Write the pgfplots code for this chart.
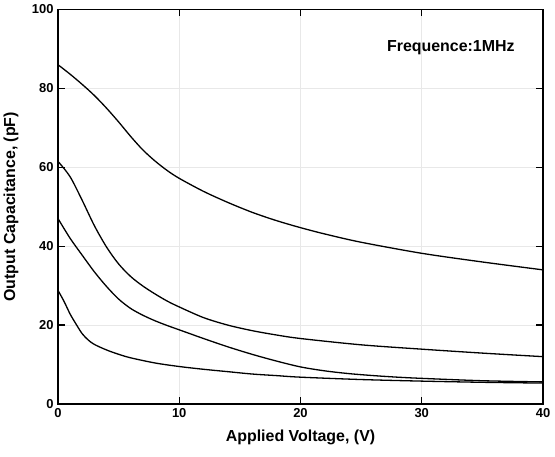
\documentclass[border=0pt]{standalone}
\usepackage{fontspec}
\setmainfont{Liberation Sans}
\usepackage{pgfplots}
\pgfplotsset{compat=1.18}
\usetikzlibrary{calc}

\begin{document}
\begin{tikzpicture}[curve/.style={black, line width=1.3bp, smooth, no marks}]
\begin{axis}[
    name=ax,
    at={(0,0)}, anchor=south west,
    scale only axis,
    width=485bp, height=394.5bp,
    xmin=0, xmax=40, ymin=0, ymax=100,
    xtick={0,10,...,40}, ytick={0,20,...,100},
    tick align=inside,
    major tick length=7bp,
    tick style={line width=1.2bp, black},
    axis line style={line width=1.6bp},
    grid=major,
    grid style={line width=0.6bp, gray!18},
    /pgf/number format/assume math mode=true,
    ticklabel style={font=\fontsize{13}{14}\selectfont\bfseries},
    xticklabel style={yshift=-1bp},
    yticklabel style={xshift=-1bp},
    label style={font=\fontsize{16}{18}\selectfont\bfseries},
    xlabel={Applied Voltage, (V)},
    ylabel={Output Capacitance, (pF)},
    xlabel style={at={(axis description cs:0.5,-0.084)}, anchor=center},
    ylabel style={at={(axis description cs:-0.097,0.5)}, anchor=center},
]
\addplot[curve] coordinates {
  (0,86) (1,83.6) (2,81) (3,78.2) (4,75) (5,71.5) (6,67.8) (7,64.4) (8,61.6)
  (9,59.2) (10,57.2) (12,53.9) (14,51.1) (16,48.6) (18,46.5) (20,44.7)
  (22,43.1) (25,41.0) (30,38.2) (35,36) (40,34)
};
\addplot[curve] coordinates {
  (0,61.5) (1,57.6) (2,51.6) (3,45.2) (4,39.8) (5,35.5) (6,32.3) (7,29.9)
  (8,27.9) (9,26.1) (10,24.6) (12,21.9) (14,20) (16,18.6) (18,17.5) (20,16.6)
  (25,15) (30,13.9) (35,12.9) (40,12.0)
};
\addplot[curve] coordinates {
  (0,47) (1,42) (2,37.7) (3,33.5) (4,29.8) (5,26.6) (6,24.2) (7,22.5)
  (8,21.1) (9,19.9) (10,18.8) (12,16.6) (14,14.5) (16,12.6) (18,10.9)
  (20,9.4) (22,8.4) (24,7.7) (26,7.2) (28,6.8) (30,6.5) (35,5.9) (40,5.6)
};
\addplot[curve] coordinates {
  (0,28.8) (0.5,26) (1,22.8) (1.5,20.2) (2,17.8) (2.5,16.2) (3,15.1) (4,13.7)
  (5,12.6) (6,11.7) (8,10.4) (10,9.5) (12,8.8) (14,8.2) (16,7.6) (18,7.2)
  (20,6.8) (25,6.2) (30,5.8) (35,5.5) (40,5.3)
};
\node[font=\fontsize{16}{18}\selectfont\bfseries] at (axis cs:32.4,90.2) {Frequence:1MHz};
\end{axis}
\pgfresetboundingbox
\path ($(ax.south west)+(-58bp,-53bp)$) rectangle ($(ax.north east)+(12bp,9.5bp)$);
\end{tikzpicture}
\end{document}
